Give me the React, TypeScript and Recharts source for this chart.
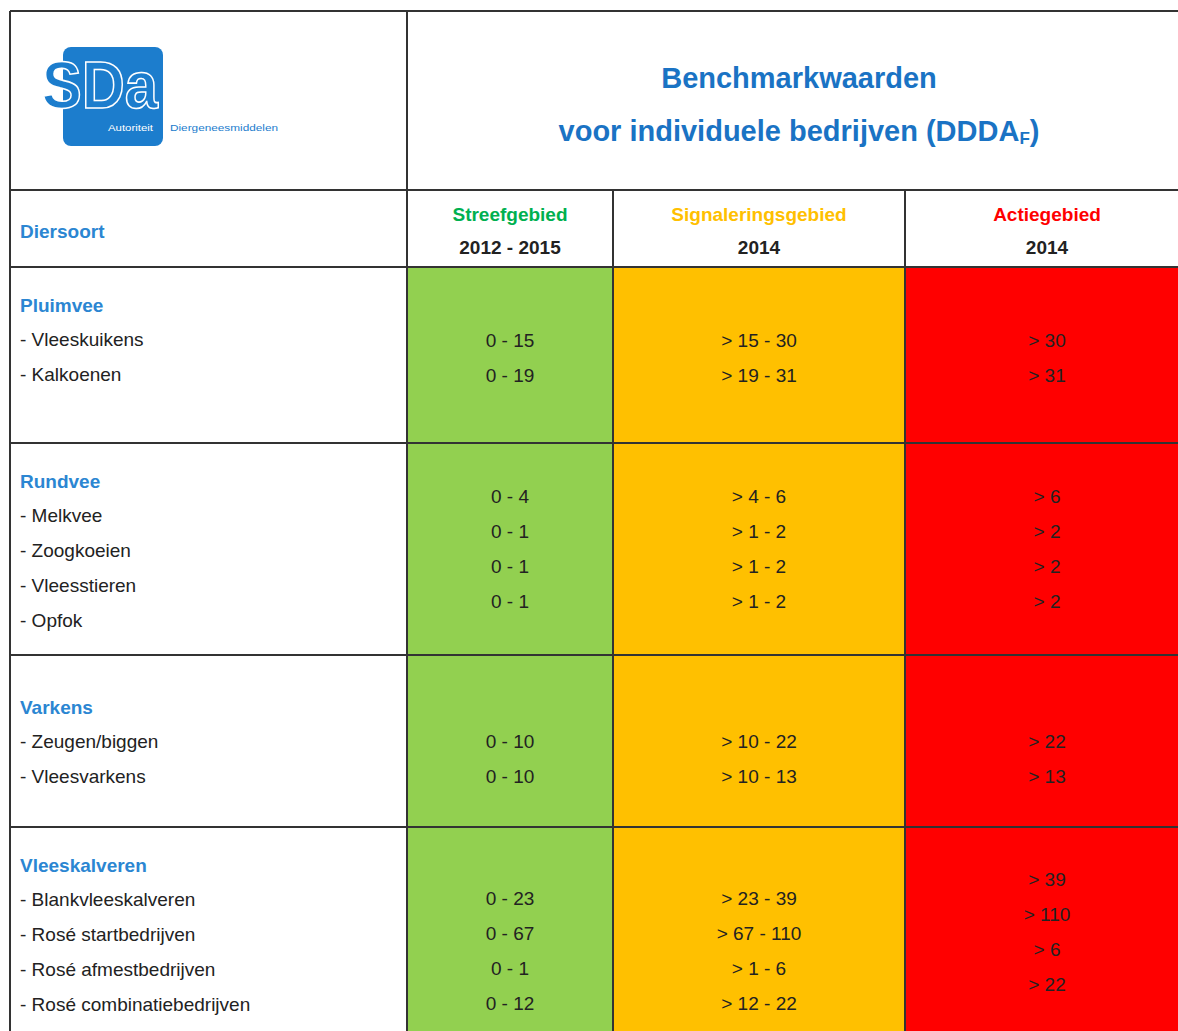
import { ComposedChart, XAxis, YAxis, Scatter, ReferenceArea, ReferenceLine, Customized } from "recharts";

const groups = ["Pluimvee", "Rundvee", "Varkens", "Vleeskalveren"];
const animals = [
  ["Vleeskuikens", "Kalkoenen"],
  ["Melkvee", "Zoogkoeien", "Vleesstieren", "Opfok"],
  ["Zeugen/biggen", "Vleesvarkens"],
  ["Blankvleeskalveren", "Rosé startbedrijven", "Rosé afmestbedrijven", "Rosé combinatiebedrijven"],
];
const streef = [
  ["0 - 15", "0 - 19"],
  ["0 - 4", "0 - 1", "0 - 1", "0 - 1"],
  ["0 - 10", "0 - 10"],
  ["0 - 23", "0 - 67", "0 - 1", "0 - 12"],
];
const signal = [
  ["> 15 - 30", "> 19 - 31"],
  ["> 4 - 6", "> 1 - 2", "> 1 - 2", "> 1 - 2"],
  ["> 10 - 22", "> 10 - 13"],
  ["> 23 - 39", "> 67 - 110", "> 1 - 6", "> 12 - 22"],
];
const actie = [
  ["> 30", "> 31"],
  ["> 6", "> 2", "> 2", "> 2"],
  ["> 22", "> 13"],
  ["> 39", "> 110", "> 6", "> 22"],
];
const zones = ["Streefgebied", "Signaleringsgebied", "Actiegebied"];
const zoneYears = ["2012 - 2015", "2014", "2014"];

// layout
const W = 1178;
const H = 1031;
const FONT = "'Liberation Sans', Arial, sans-serif";
const BLUE = "#2B86D2";
const zoneColors = ["#92D050", "#FFC000", "#FF0000"];
const zoneTextColors = ["#00B050", "#FFC000", "#FF0000"];
const colEdges = [407, 613, 905, W];
const colCenter = [510, 759, 1047];
const groupTop = [267, 443, 655, 827];
const titleY = [305, 481, 707, 865];
const firstValueY = [
  [340, 340, 340],
  [496, 496, 496],
  [741, 741, 741],
  [898, 898, 879],
];
const STEP = 35;

const groupCells = groups.map((g, i) => ({ x: 20, y: titleY[i], text: g }));
const itemCells = animals.flatMap((list, g) =>
  list.map((a, i) => ({ x: 20, y: titleY[g] + 34 + STEP * i, text: "- " + a }))
);
const valueCells = [streef, signal, actie].flatMap((col, c) =>
  col.flatMap((list, g) =>
    list.map((v, i) => ({ x: colCenter[c], y: firstValueY[g][c] + STEP * i, text: v }))
  )
);
const zoneCells = zones.map((z, i) => ({ x: colCenter[i], y: 214, text: z, color: zoneTextColors[i] }));
const yearCells = zoneYears.map((z, i) => ({ x: colCenter[i], y: 247, text: z }));

const textShape = (opts: { anchor: string; size: number; weight: string; fill?: string }) => (p: any) => (
  <text
    x={p.cx}
    y={p.cy}
    textAnchor={opts.anchor}
    dominantBaseline="central"
    fontFamily={FONT}
    fontSize={opts.size}
    fontWeight={opts.weight}
    fill={p.payload.color || opts.fill}
  >
    {p.payload.text}
  </text>
);

const Header = () => (
  <g fontFamily={FONT}>
    <rect x={63} y={47} width={100} height={99} rx={8} fill="#1C7DCD" />
    <text x={42} y={108} fontSize={66} fontWeight="bold" fill="#1C7DCD" stroke="#fff" strokeWidth={1.6}
      textLength={116} lengthAdjust="spacingAndGlyphs">SDa</text>
    <text x={108} y={128} dominantBaseline="central" fontSize={9} fill="#fff" textLength={45}
      lengthAdjust="spacingAndGlyphs">Autoriteit</text>
    <text x={170} y={128} dominantBaseline="central" fontSize={9} fill="#1C7DCD" textLength={108}
      lengthAdjust="spacingAndGlyphs">Diergeneesmiddelen</text>
    <text x={799} y={78} textAnchor="middle" dominantBaseline="central" fontSize={29} fontWeight="bold" fill="#1A73C4">
      Benchmarkwaarden
    </text>
    <text x={799} y={131} textAnchor="middle" dominantBaseline="central" fontSize={29} fontWeight="bold" fill="#1A73C4">
      voor individuele bedrijven (DDDA<tspan fontSize={17} dy={7}>F</tspan><tspan dy={-7}>)</tspan>
    </text>
    <text x={20} y={231} dominantBaseline="central" fontSize={19} fontWeight="bold" fill={BLUE}>Diersoort</text>
  </g>
);

const hLines = [11, 190, 267, ...groupTop.slice(1)];
const LINE = "#333";

export default function App() {
  return (
    <div style={{ position: "absolute", left: 0, top: 0, background: "#fff" }}>
      <ComposedChart width={W} height={H} margin={{ top: 0, right: 0, bottom: 0, left: 0 }}>
        <XAxis type="number" dataKey="x" domain={[0, W]} allowDataOverflow hide />
        <YAxis type="number" dataKey="y" domain={[0, H]} allowDataOverflow reversed hide />
        {zoneColors.map((c, i) => (
          <ReferenceArea key={c} x1={colEdges[i]} x2={colEdges[i + 1]} y1={267} y2={H}
            fill={c} fillOpacity={1} stroke="none" />
        ))}
        {hLines.map((y) => (
          <ReferenceLine key={"h" + y} segment={[{ x: 10, y }, { x: W, y }]} stroke={LINE} strokeWidth={2} />
        ))}
        <ReferenceLine segment={[{ x: 10, y: 11 }, { x: 10, y: H }]} stroke={LINE} strokeWidth={2} />
        <ReferenceLine segment={[{ x: 407, y: 11 }, { x: 407, y: H }]} stroke={LINE} strokeWidth={2} />
        {[613, 905].map((x) => (
          <ReferenceLine key={"v" + x} segment={[{ x, y: 190 }, { x, y: H }]} stroke={LINE} strokeWidth={2} />
        ))}
        <Customized component={Header} />
        <Scatter data={zoneCells} isAnimationActive={false}
          shape={textShape({ anchor: "middle", size: 19, weight: "bold" })} />
        <Scatter data={yearCells} isAnimationActive={false}
          shape={textShape({ anchor: "middle", size: 19, weight: "bold", fill: "#222" })} />
        <Scatter data={groupCells} isAnimationActive={false}
          shape={textShape({ anchor: "start", size: 19, weight: "bold", fill: BLUE })} />
        <Scatter data={itemCells} isAnimationActive={false}
          shape={textShape({ anchor: "start", size: 19, weight: "normal", fill: "#222" })} />
        <Scatter data={valueCells} isAnimationActive={false}
          shape={textShape({ anchor: "middle", size: 19, weight: "normal", fill: "#222" })} />
      </ComposedChart>
    </div>
  );
}
